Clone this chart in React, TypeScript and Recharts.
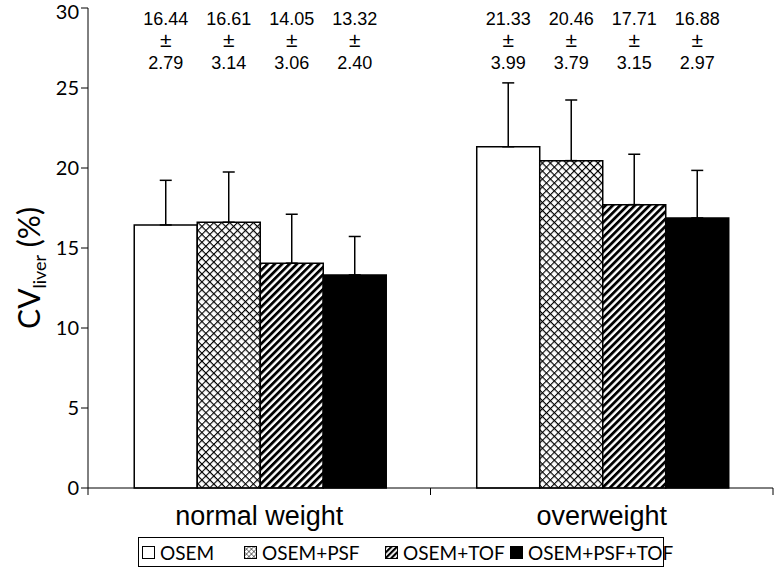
import { Bar, BarChart, ErrorBar, LabelList, XAxis, YAxis } from 'recharts'

const groups = ['normal weight', 'overweight']
const methods = ['OSEM', 'OSEM+PSF', 'OSEM+TOF', 'OSEM+PSF+TOF']
const osem = [16.44, 21.33]
const osemPsf = [16.61, 20.46]
const osemTof = [14.05, 17.71]
const osemPsfTof = [13.32, 16.88]
const osemSd = [2.79, 3.99]
const osemPsfSd = [3.14, 3.79]
const osemTofSd = [3.06, 3.15]
const osemPsfTofSd = [2.4, 2.97]
const yTicks = [0, 5, 10, 15, 20, 25, 30]

const means = [osem, osemPsf, osemTof, osemPsfTof]
const sds = [osemSd, osemPsfSd, osemTofSd, osemPsfTofSd]

const data = groups.map((g, i) => {
  const row: Record<string, any> = { group: g }
  methods.forEach((m, k) => {
    row['m' + k] = means[k][i]
    row['e' + k] = [0, sds[k][i]]
  })
  return row
})

const fills = ['#ffffff', 'url(#cross)', 'url(#diag)', '#000000']
const legendFills = ['#ffffff', 'url(#lcross)', 'url(#ldiag)', '#000000']
const legendLeft = [142, 244, 385, 510]
const sans = 'Lato, "Open Sans", sans-serif'
const arial = '"Liberation Sans", Arial, sans-serif'

function TopLabel(props: any) {
  const { x, width, index, k } = props
  const cx = x + width / 2
  const mean = means[k][index].toFixed(2)
  const sd = sds[k][index].toFixed(2)
  return (
    <g fontFamily={arial} fill="#000" textAnchor="middle">
      <text x={cx} y={25} fontSize={18}>{mean}</text>
      <text x={cx} y={47} fontSize={21}>±</text>
      <text x={cx} y={69} fontSize={18}>{sd}</text>
    </g>
  )
}

// category label plus tick marks on the band edges
function GroupTick(props: any) {
  const { x, y, payload, index, visibleTicksCount } = props
  const half = payload.offset || 0
  const axisY = y - 12
  const last = index === visibleTicksCount - 1
  return (
    <g>
      <line x1={x - half} x2={x - half} y1={axisY} y2={axisY + 7} stroke="#000" />
      {last && <line x1={x + half} x2={x + half} y1={axisY} y2={axisY + 7} stroke="#000" />}
      <text x={x} y={y} dy={25} textAnchor="middle" fontFamily={arial} fontSize={27} fill="#000">
        {payload.value}
      </text>
    </g>
  )
}

function LegendBox() {
  return (
    <div
      style={{
        position: 'absolute',
        left: 138,
        top: 537,
        width: 526,
        height: 30,
        border: '1px solid #000',
        boxSizing: 'border-box',
        fontFamily: sans,
        fontSize: 19,
        background: '#fff',
      }}
    >
      {methods.map((m, k) => (
        <span
          key={m}
          style={{
            position: 'absolute',
            left: legendLeft[k] - 139,
            top: 0,
            height: 28,
            display: 'flex',
            alignItems: 'center',
            whiteSpace: 'nowrap',
          }}
        >
          <svg width={13} height={13} style={{ marginRight: 5 }}>
            <defs>
              <pattern id="lcross" width="3.5" height="3.5" patternUnits="userSpaceOnUse" patternTransform="rotate(45)">
                <rect width="3.5" height="3.5" fill="#fff" />
                <path d="M0 0H3.5M0 0V3.5" stroke="#000" strokeWidth={1} />
              </pattern>
              <pattern id="ldiag" width="4" height="4" patternUnits="userSpaceOnUse" patternTransform="rotate(45)">
                <rect width="4" height="4" fill="#fff" />
                <rect width="2.2" height="4" fill="#000" />
              </pattern>
            </defs>
            <rect x={0.5} y={0.5} width={12} height={12} fill={legendFills[k]} stroke="#000" />
          </svg>
          {m}
        </span>
      ))}
    </div>
  )
}

export default function App() {
  return (
    <div style={{ position: 'absolute', left: 0, top: 0, width: 774, height: 581, background: '#fff' }}>
      <BarChart
        width={774}
        height={581}
        data={data}
        margin={{ top: 8, right: 1, left: 0, bottom: 53 }}
        barCategoryGap="13.5%"
        barGap={0}
      >
        <defs>
          <pattern id="cross" width="5.6" height="5.6" patternUnits="userSpaceOnUse" patternTransform="rotate(45)">
            <rect width="5.6" height="5.6" fill="#fff" />
            <path d="M0 0H5.6M0 0V5.6" stroke="#000" strokeWidth={2.2} />
          </pattern>
          <pattern id="diag" width="5.2" height="5.2" patternUnits="userSpaceOnUse" patternTransform="rotate(45)">
            <rect width="5.2" height="5.2" fill="#fff" />
            <rect width="2.8" height="5.2" fill="#000" />
          </pattern>
        </defs>
        <XAxis
          dataKey="group"
          axisLine={{ stroke: '#000' }}
          tickLine={false}
          tickSize={0}
          tickMargin={12}
          tick={<GroupTick />}
          height={40}
        />
        <YAxis
          domain={[0, 30]}
          ticks={yTicks}
          width={88}
          axisLine={{ stroke: '#000' }}
          tickLine={{ stroke: '#000' }}
          tickSize={7}
          tick={{ fill: '#000', fontSize: 20, fontFamily: sans }}
          label={{
            value: 'CV',
            content: () => (
              <text
                transform="translate(40,268) rotate(-90)"
                textAnchor="middle"
                fontFamily={sans}
                fontSize={30}
                fill="#000"
              >
                CV
                <tspan fontSize={18} dy={6}>liver</tspan>
                <tspan dy={-6}> (%)</tspan>
              </text>
            ),
          }}
        />
        {methods.map((m, k) => (
          <Bar
            key={m}
            dataKey={'m' + k}
            name={m}
            fill={fills[k]}
            stroke="#000"
            strokeWidth={1.5}
            isAnimationActive={false}
          >
            <ErrorBar dataKey={'e' + k} direction="y" width={6} stroke="#000" strokeWidth={1.5} />
            <LabelList dataKey={'m' + k} content={(p: any) => <TopLabel {...p} k={k} />} />
          </Bar>
        ))}
      </BarChart>
      <LegendBox />
    </div>
  )
}
